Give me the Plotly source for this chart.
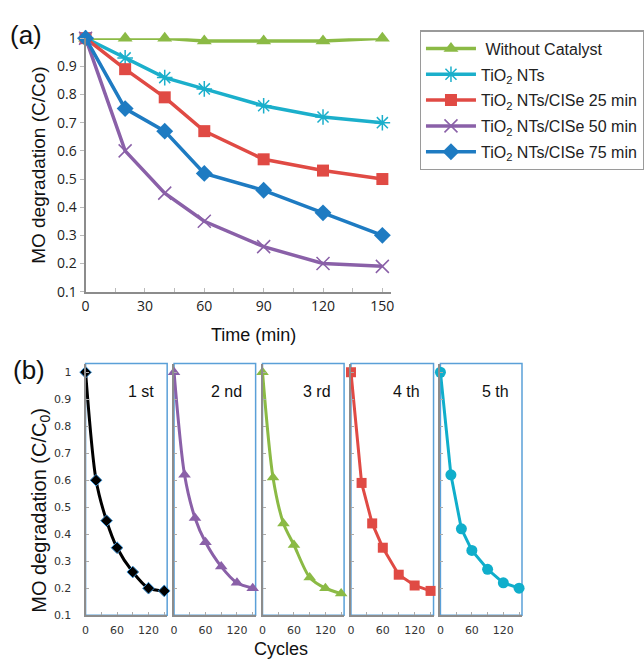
import plotly.graph_objects as go

W, H = 644, 665

# ---------------- data ----------------
time_a = [0, 20, 40, 60, 90, 120, 150]
series_names = ["\u00a0Without Catalyst", "TiO<sub>2</sub> NTs", "TiO<sub>2</sub> NTs/CISe 25 min",
                "TiO<sub>2</sub> NTs/CISe 50 min", "TiO<sub>2</sub> NTs/CISe 75 min"]
without_catalyst = [1.00, 1.00, 1.00, 0.99, 0.99, 0.99, 1.00]
tio2_nts = [1.00, 0.93, 0.86, 0.82, 0.76, 0.72, 0.70]
cise_25 = [1.00, 0.89, 0.79, 0.67, 0.57, 0.53, 0.50]
cise_50 = [1.00, 0.60, 0.45, 0.35, 0.26, 0.20, 0.19]
cise_75 = [1.00, 0.75, 0.67, 0.52, 0.46, 0.38, 0.30]

time_b = [0, 20, 40, 60, 90, 120, 150]
cycle_labels = ["1 st", "2 nd", "3 rd", "4 th", "5 th"]
cycle_1 = [1.00, 0.60, 0.45, 0.35, 0.26, 0.20, 0.19]
cycle_2 = [1.00, 0.62, 0.46, 0.37, 0.28, 0.22, 0.20]
cycle_3 = [1.00, 0.61, 0.44, 0.36, 0.24, 0.20, 0.18]
cycle_4 = [1.00, 0.59, 0.44, 0.35, 0.25, 0.21, 0.19]
cycle_5 = [1.00, 0.62, 0.42, 0.34, 0.27, 0.22, 0.20]

y_ticks = [0.1, 0.2, 0.3, 0.4, 0.5, 0.6, 0.7, 0.8, 0.9, 1.0]
y_ticklabels = ["0.1", "0.2", "0.3", "0.4", "0.5", "0.6", "0.7", "0.8", "0.9", "1"]
xa_ticks = [0, 30, 60, 90, 120, 150]
xb_ticks = [0, 60, 120]

# ---------------- styles ----------------
GREEN = "#8BBA45"
CYAN = "#1BAFCB"
RED = "#E04A44"
PURPLE = "#8A60A8"
BLUE = "#1E7BC2"
AXIS = "#8C8C8C"
BOXBLUE = "#5AA0D8"

def px_x(p):
    return p / W

def px_y(p):
    return 1 - p / H

fig = go.Figure()

series_a = [without_catalyst, tio2_nts, cise_25, cise_50, cise_75]
styles_a = [
    dict(color=GREEN, symbol="triangle-up", size=13, line=dict(width=0)),
    dict(color=CYAN, symbol="asterisk-open", size=13, line=dict(width=1.5, color=CYAN)),
    dict(color=RED, symbol="square", size=12, line=dict(width=0)),
    dict(color=PURPLE, symbol="x-thin-open", size=13, line=dict(width=1.5, color=PURPLE)),
    dict(color=BLUE, symbol="diamond", size=13, line=dict(width=0)),
]
colors_a = [GREEN, CYAN, RED, PURPLE, BLUE]
for i, (name, ys, mk, c) in enumerate(zip(series_names, series_a, styles_a, colors_a)):
    fig.add_trace(go.Scatter(
        x=time_a, y=ys, name=name, mode="lines+markers",
        line=dict(color=c, width=3.5), marker=mk,
        xaxis="x", yaxis="y", cliponaxis=False, legendgroup=f"g{i}",
    ))

series_b = [cycle_1, cycle_2, cycle_3, cycle_4, cycle_5]
styles_b = [
    (dict(color="#000000", symbol="diamond", size=9, line=dict(width=1, color="#3A8FD0")), "#000000", "spline"),
    (dict(color=PURPLE, symbol="triangle-up", size=11, line=dict(width=0)), PURPLE, "spline"),
    (dict(color=GREEN, symbol="triangle-up", size=11, line=dict(width=0)), GREEN, "spline"),
    (dict(color=RED, symbol="square", size=10, line=dict(width=0)), RED, "linear"),
    (dict(color="#10AECB", symbol="circle", size=11, line=dict(width=0)), "#10AECB", "linear"),
]
panel_px = [(83, 166), (173, 256), (263, 346), (353, 437), (444, 527)]

layout = dict(
    width=W, height=H,
    margin=dict(l=0, r=0, t=0, b=0),
    paper_bgcolor="white", plot_bgcolor="white",
    showlegend=True,
    legend=dict(
        x=px_x(423), y=px_y(21), xanchor="left", yanchor="top",
        bordercolor="#9A9A9A", borderwidth=1.2, bgcolor="white",
        font=dict(family="Liberation Sans, Arial", size=16, color="#222"),
        tracegroupgap=2, itemwidth=50,
    ),
    xaxis=dict(
        domain=[px_x(83), px_x(394)], range=[0, 154.5], anchor="y",
        showline=True, linecolor=AXIS, linewidth=2, showgrid=False, zeroline=False,
        tickmode="array", tickvals=xa_ticks, ticktext=[str(v) for v in xa_ticks],
        ticks="inside", ticklen=4, tickcolor="#BBBBBB",
        minor=dict(ticks="inside", ticklen=4, tickcolor="#BBBBBB", dtick=15, tick0=0),
        tickfont=dict(family="Open Sans", size=14, color="#222"),
    ),
    yaxis=dict(
        domain=[px_y(290), px_y(29)], range=[0.1, 1.0], anchor="x",
        showline=True, linecolor=AXIS, linewidth=2, showgrid=False, zeroline=False,
        tickmode="array", tickvals=y_ticks, ticktext=y_ticklabels,
        ticks="outside", ticklen=4, tickcolor="#BBBBBB",
        tickfont=dict(family="Open Sans", size=14, color="#222"),
    ),
)

shapes = []
annotations = []
for k, (ys, (mk, c, shp), (l, r), lab) in enumerate(zip(series_b, styles_b, panel_px, cycle_labels)):
    idx = k + 2
    xa = f"x{idx}"
    ya = f"y{idx}"
    fig.add_trace(go.Scatter(
        x=time_b, y=ys, mode="lines+markers", showlegend=False,
        line=dict(color=c, width=3, shape=shp, smoothing=0.8), marker=mk,
        xaxis=xa, yaxis=ya, cliponaxis=False,
    ))
    layout[f"xaxis{idx}"] = dict(
        domain=[px_x(l), px_x(r)], range=[0, 155.6], anchor=ya,
        showline=True, linecolor=AXIS, linewidth=2, showgrid=False, zeroline=False,
        tickmode="array", tickvals=xb_ticks, ticktext=[str(v) for v in xb_ticks],
        ticks="inside", ticklen=3, tickcolor="#AAAAAA",
        minor=dict(ticks="inside", ticklen=3, tickcolor="#AAAAAA", dtick=30, tick0=0),
        tickfont=dict(family="DejaVu Sans", size=11, color="#333"),
        ticklabelstandoff=4,
    )
    layout[f"yaxis{idx}"] = dict(
        domain=[px_y(623), px_y(364)], range=[0.1, 1.032], anchor=xa,
        showline=True, linecolor=AXIS, linewidth=2, showgrid=False, zeroline=False,
        tickmode="array", tickvals=y_ticks, ticktext=y_ticklabels,
        showticklabels=(k == 0),
        ticks="inside", ticklen=3, tickcolor="#AAAAAA",
        tickfont=dict(family="DejaVu Sans", size=11, color="#333"),
        ticklabelstandoff=10,
    )
    shapes.append(dict(
        type="rect", xref=f"{xa} domain", yref=f"{ya} domain",
        x0=0, x1=1, y0=0, y1=1, layer="below",
        line=dict(color=BOXBLUE, width=1.5), fillcolor="rgba(0,0,0,0)",
    ))
    annotations.append(dict(
        text=lab, xref=f"{xa} domain", yref="paper",
        x=0.86, y=px_y(393), xanchor="right", yanchor="middle", showarrow=False,
        font=dict(family="Liberation Sans, Arial", size=16, color="#111"),
    ))

annotations += [
    dict(text="(a)", xref="paper", yref="paper", x=px_x(22), y=px_y(26),
         xanchor="center", yanchor="middle", showarrow=False,
         font=dict(family="Liberation Sans, Arial", size=26, color="#111")),
    dict(text="(b)", xref="paper", yref="paper", x=px_x(25), y=px_y(371),
         xanchor="center", yanchor="middle", showarrow=False,
         font=dict(family="Liberation Sans, Arial", size=26, color="#111")),
    dict(text="MO degradation (C/Co)", xref="paper", yref="paper", x=px_x(35), y=px_y(160),
         xanchor="center", yanchor="middle", showarrow=False, textangle=-90,
         font=dict(family="Liberation Sans, Arial", size=19, color="#111")),
    dict(text="MO degradation (C/C<sub>0</sub>)", xref="paper", yref="paper", x=px_x(37), y=px_y(515),
         xanchor="center", yanchor="middle", showarrow=False, textangle=-90,
         font=dict(family="Liberation Sans, Arial", size=20, color="#111")),
    dict(text="Time (min)", xref="paper", yref="paper", x=px_x(254), y=px_y(335),
         xanchor="center", yanchor="middle", showarrow=False,
         font=dict(family="Liberation Sans, Arial", size=18, color="#111")),
    dict(text="Cycles", xref="paper", yref="paper", x=px_x(282), y=px_y(658),
         xanchor="center", yanchor="middle", showarrow=False,
         font=dict(family="Liberation Sans, Arial", size=18, color="#111")),
]
layout["shapes"] = shapes
layout["annotations"] = annotations

fig.update_layout(**layout)
fig.write_html(
    "out.html",
    config={"displayModeBar": False},
    post_script="document.body.style.margin='0';document.body.style.overflow='hidden';",
)
